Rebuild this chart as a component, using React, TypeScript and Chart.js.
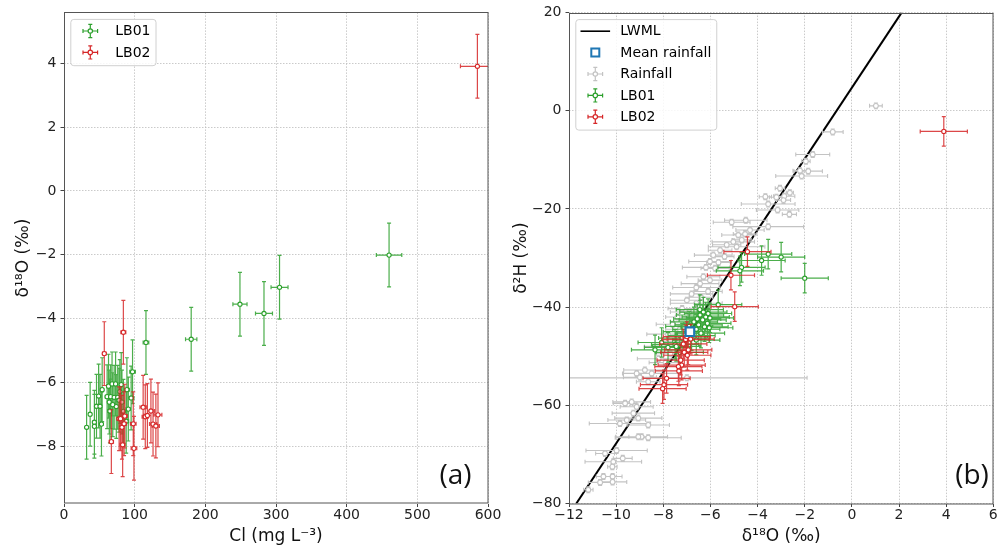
import React, { useEffect, useRef } from "react";
import { Chart, registerables } from "chart.js";
Chart.register(...registerables);

// ---------------- Panel (a): Cl vs δ18O ----------------
const A_X_TICKS = [0, 100, 200, 300, 400, 500, 600];
const A_Y_TICKS = [-8, -6, -4, -2, 0, 2, 4];

const A_LB01_CL = [460, 305, 283, 249, 180, 116, 97, 32, 37, 43, 43, 46, 49, 51, 53, 54, 61, 63, 64, 65, 66, 68, 69, 71, 73, 74, 76, 78, 79, 81, 82, 84, 88, 89, 91, 95];
const A_LB01_O18 = [-2.01, -3.02, -3.84, -3.55, -4.65, -4.75, -5.67, -7.41, -7.0, -7.25, -7.38, -6.75, -6.43, -6.75, -7.31, -6.23, -6.45, -6.12, -6.62, -6.9, -6.45, -6.05, -6.7, -6.47, -6.05, -6.76, -6.47, -6.56, -6.29, -6.07, -6.62, -6.91, -7.22, -6.23, -6.84, -6.49];
const A_LB01_CL_ERR = [18, 12, 12, 10, 8, 4, 4, 1.5, 1.5, 2, 2, 2, 2, 2, 2, 2, 2.5, 2.5, 2.5, 2.5, 2.5, 3, 3, 3, 3, 3, 3, 3, 3, 3, 3, 3.5, 3.5, 3.5, 3.5, 4];

const A_LB02_CL = [585, 57, 84, 67, 78, 80, 82, 83, 85, 86, 98, 99, 112, 115, 118, 123, 126, 130, 133];
const A_LB02_O18 = [3.91, -5.1, -4.43, -7.86, -7.14, -7.14, -7.41, -7.96, -7.3, -7.06, -7.3, -8.07, -6.78, -7.08, -7.04, -6.9, -7.31, -7.37, -7.02];
const A_LB02_CL_ERR = [24, 2.5, 3.5, 3, 3, 3, 3.5, 3.5, 3.5, 3.5, 4, 4, 4.5, 4.5, 5, 5, 5, 5, 5.5];

const A_O18_ERR = 1;

// ---------------- Panel (b): δ18O vs δ2H ----------------
const B_X_TICKS = [-12, -10, -8, -6, -4, -2, 0, 2, 4, 6];
const B_Y_TICKS = [-80, -60, -40, -20, 0, 20];

const LWML_O18 = [-11.69, 2.11];
const LWML_H2 = [-80, 20];

const MEAN_RAIN_O18 = [-6.87];
const MEAN_RAIN_H2 = [-45.0];

const RAIN_O18 = [1.02, -0.81, -1.66, -1.95, -2.2, -1.85, -2.13, -3.05, -2.63, -2.87, -3.67, -3.2, -2.9, -3.55, -3.15, -2.65, -5.1, -4.5, -3.55, -4.32, -4.53, -4.82, -4.67, -5.03, -5.31, -4.89, -5.59, -5.88, -5.4, -6.02, -5.66, -6.19, -5.8, -6.3, -6.02, -6.44, -6.6, -6.1, -6.8, -6.4, -7.0, -6.6, -7.2, -6.9, -7.4, -7.6, -7.3, -7.8, -7.5, -8.0, -7.7, -8.2, -7.9, -8.78, -9.13, -8.49, -8.99, -8.64, -7.0, -9.34, -9.62, -9.13, -9.27, -9.06, -9.55, -9.84, -8.64, -8.92, -9.06, -8.64, -9.98, -10.47, -9.72, -10.12, -10.16, -10.54, -10.15, -10.68, -10.15, -11.18];
const RAIN_H2 = [1.0, -4.3, -8.9, -10.3, -12.2, -12.3, -13.3, -15.8, -16.7, -17.4, -17.5, -17.6, -18.2, -19.0, -20.2, -21.1, -22.7, -22.3, -23.6, -24.3, -25.1, -25.3, -26.3, -26.7, -27.3, -27.7, -28.4, -29.4, -29.7, -30.7, -30.9, -31.9, -32.1, -33.8, -34.5, -35.2, -36.0, -36.8, -37.3, -38.0, -38.6, -39.2, -40.3, -41.0, -42.0, -43.5, -44.5, -45.5, -47.0, -48.0, -49.5, -50.5, -51.3, -52.8, -53.5, -53.5, -54.3, -55.2, -54.4, -59.3, -59.6, -60.3, -61.6, -62.6, -63.0, -63.7, -64.0, -66.4, -66.4, -66.6, -69.2, -69.8, -70.8, -71.5, -72.5, -74.5, -74.5, -75.7, -75.6, -77.2];
const RAIN_O18_ERR = [0.27, 0.44, 0.72, 0.18, 0.3, 0.6, 1.1, 0.2, 0.15, 0.45, 0.26, 0.3, 0.3, 1.14, 0.9, 0.3, 0.78, 0.9, 1.5, 0.6, 0.5, 0.7, 0.4, 0.9, 0.6, 1.2, 0.5, 0.8, 0.4, 0.9, 0.5, 1.0, 0.6, 0.7, 0.5, 0.8, 1.0, 0.6, 0.9, 0.5, 0.7, 1.1, 0.6, 0.8, 0.5, 0.7, 0.6, 0.9, 0.5, 0.8, 0.6, 0.9, 0.7, 0.9, 0.6, 1.2, 0.7, 0.5, 5.1, 0.8, 0.5, 0.7, 0.9, 1.0, 0.8, 1.3, 0.9, 1.1, 0.4, 1.4, 1.3, 0.4, 0.4, 1.2, 0.2, 0.3, 0.4, 0.5, 0.6, 0.2];
const RAIN_H2_ERR = 0.6;

const B_LB01_O18 = [-2.0, -3.0, -3.55, -3.83, -4.68, -4.75, -5.67, -6.45, -6.3, -6.1, -6.44, -6.2, -6.02, -6.56, -6.33, -6.13, -6.7, -6.5, -6.25, -6.9, -6.6, -6.05, -7.0, -6.4, -6.8, -7.2, -6.6, -7.5, -7.8, -8.07, -8.35, -7.3, -7.45];
const B_LB01_H2 = [-34.1, -29.8, -29.2, -30.5, -31.9, -32.6, -39.5, -40.5, -41.0, -41.3, -41.6, -42.0, -42.2, -42.4, -42.6, -43.3, -43.0, -43.6, -44.0, -43.9, -44.5, -44.2, -45.0, -45.3, -45.8, -46.3, -46.7, -47.6, -48.2, -47.2, -48.7, -49.2, -48.0];

const B_LB02_O18 = [3.9, -4.43, -5.13, -4.97, -6.84, -7.05, -7.15, -6.94, -7.11, -6.98, -7.26, -7.22, -7.36, -7.34, -7.86, -7.97, -8.03, -7.0];
const B_LB02_H2 = [-4.2, -28.7, -33.5, -39.9, -46.5, -46.6, -47.5, -48.7, -49.2, -49.8, -50.8, -51.8, -52.1, -53.0, -54.5, -55.8, -56.6, -46.0];

const B_O18_ERR = 1;
const B_H2_ERR = 3;

// ---------------- styling ----------------
const GREEN = "#2ca02c";
const RED = "#d62728";
const BLUE = "#1f77b4";
const GREY = "#c3c3c3";
const FONT = '"DejaVu Sans", sans-serif';

type Pt = { x: number; y: number; xe?: number; ye?: number };

function pts(xs: number[], ys: number[], xe: number[] | number, ye: number[] | number): Pt[] {
  return xs.map((x, i) => ({
    x,
    y: ys[i],
    xe: Array.isArray(xe) ? xe[i] : xe,
    ye: Array.isArray(ye) ? ye[i] : ye,
  }));
}

const fmt = (v: number) => String(v).replace("-", "\u2212");

type LegendItem = { label: string; kind: "err" | "line" | "square"; color: string };

function drawErrIcon(ctx: CanvasRenderingContext2D, cx: number, cy: number, color: string) {
  ctx.save();
  ctx.strokeStyle = color;
  ctx.lineWidth = 1.2;
  ctx.beginPath();
  ctx.moveTo(cx - 7.3, cy); ctx.lineTo(cx + 7.3, cy);
  ctx.moveTo(cx - 7.3, cy - 2); ctx.lineTo(cx - 7.3, cy + 2);
  ctx.moveTo(cx + 7.3, cy - 2); ctx.lineTo(cx + 7.3, cy + 2);
  ctx.moveTo(cx, cy - 6.6); ctx.lineTo(cx, cy + 6.6);
  ctx.moveTo(cx - 2, cy - 6.6); ctx.lineTo(cx + 2, cy - 6.6);
  ctx.moveTo(cx - 2, cy + 6.6); ctx.lineTo(cx + 2, cy + 6.6);
  ctx.stroke();
  ctx.beginPath();
  ctx.arc(cx, cy, 2.2, 0, Math.PI * 2);
  ctx.fillStyle = "#fff";
  ctx.fill();
  ctx.stroke();
  ctx.restore();
}

function makePlugin(legend: LegendItem[], tag: string, tagDx: number) {
  return {
    id: "errbarsOverlay",
    afterDatasetsDraw(chart: any) {
      const { ctx, chartArea: ca } = chart;
      const xs = chart.scales.x;
      const ys = chart.scales.y;
      ctx.save();
      ctx.beginPath();
      ctx.rect(ca.left, ca.top, ca.right - ca.left, ca.bottom - ca.top);
      ctx.clip();
      for (const ds of chart.data.datasets) {
        const st = ds.errStyle;
        if (!st) continue;
        ctx.setLineDash([]);
        ctx.strokeStyle = st.barColor || st.color;
        ctx.lineWidth = st.lw;
        ctx.beginPath();
        for (const p of ds.data as Pt[]) {
          const px = xs.getPixelForValue(p.x);
          const py = ys.getPixelForValue(p.y);
          if (p.xe) {
            const a = xs.getPixelForValue(p.x - p.xe);
            const b = xs.getPixelForValue(p.x + p.xe);
            ctx.moveTo(a, py); ctx.lineTo(b, py);
            ctx.moveTo(a, py - st.cap); ctx.lineTo(a, py + st.cap);
            ctx.moveTo(b, py - st.cap); ctx.lineTo(b, py + st.cap);
          }
          if (p.ye) {
            const a = ys.getPixelForValue(p.y - p.ye);
            const b = ys.getPixelForValue(p.y + p.ye);
            ctx.moveTo(px, a); ctx.lineTo(px, b);
            ctx.moveTo(px - st.cap, a); ctx.lineTo(px + st.cap, a);
            ctx.moveTo(px - st.cap, b); ctx.lineTo(px + st.cap, b);
          }
        }
        ctx.stroke();
        ctx.strokeStyle = st.color;
        ctx.lineWidth = st.mlw;
        ctx.fillStyle = "#fff";
        for (const p of ds.data as Pt[]) {
          const px = xs.getPixelForValue(p.x);
          const py = ys.getPixelForValue(p.y);
          ctx.beginPath();
          if (st.marker === "square") {
            ctx.rect(px - st.size, py - st.size, st.size * 2, st.size * 2);
          } else {
            ctx.arc(px, py, st.size, 0, Math.PI * 2);
          }
          ctx.fill();
          ctx.stroke();
        }
      }
      ctx.restore();
    },
    afterDraw(chart: any) {
      const { ctx, chartArea: ca } = chart;
      ctx.save();
      // frame
      ctx.strokeStyle = "#555";
      ctx.lineWidth = 1;
      ctx.setLineDash([]);
      ctx.strokeRect(Math.round(ca.left) + 0.5, Math.round(ca.top) + 0.5, Math.round(ca.right - ca.left) - 0.5, Math.round(ca.bottom - ca.top) - 0.5);

      // legend
      ctx.font = `14px ${FONT}`;
      const boxLeft = ca.left + 6.8;
      const boxTop = ca.top + 7;
      const rowStep = 21.4;
      const iconX = ca.left + 26.3;
      const textX = ca.left + 51.3;
      let maxW = 0;
      for (const it of legend) maxW = Math.max(maxW, ctx.measureText(it.label).width);
      const boxH = 11.6 + (legend.length - 1) * rowStep + 13.3;
      const boxW = textX - boxLeft + maxW + 5.5;
      ctx.beginPath();
      if ((ctx as any).roundRect) (ctx as any).roundRect(boxLeft, boxTop, boxW, boxH, 3);
      else ctx.rect(boxLeft, boxTop, boxW, boxH);
      ctx.fillStyle = "rgba(255,255,255,0.85)";
      ctx.fill();
      ctx.strokeStyle = "#d0d0d0";
      ctx.lineWidth = 1;
      ctx.stroke();
      legend.forEach((it, i) => {
        const cy = boxTop + 11.6 + i * rowStep;
        if (it.kind === "err") drawErrIcon(ctx, iconX, cy, it.color);
        else if (it.kind === "line") {
          ctx.strokeStyle = it.color;
          ctx.lineWidth = 1.6;
          ctx.beginPath();
          ctx.moveTo(iconX - 14.8, cy);
          ctx.lineTo(iconX + 14.8, cy);
          ctx.stroke();
        } else {
          ctx.strokeStyle = it.color;
          ctx.lineWidth = 2;
          ctx.fillStyle = "#fff";
          ctx.beginPath();
          ctx.rect(iconX - 4, cy - 4, 8, 8);
          ctx.fill();
          ctx.stroke();
        }
        ctx.fillStyle = "#000";
        ctx.textAlign = "left";
        ctx.textBaseline = "middle";
        ctx.font = `14px ${FONT}`;
        ctx.fillText(it.label, textX, cy + 0.5);
      });

      // panel tag
      ctx.fillStyle = "#111";
      ctx.font = `28px "Open Sans", sans-serif`;
      ctx.textAlign = "center";
      ctx.textBaseline = "middle";
      ctx.fillText(tag, ca.right - tagDx, 476);
      ctx.restore();
    },
  };
}

function axis(min: number, max: number, tickVals: number[], title: string, horizontal: boolean, size: number, titlePad: number) {
  return {
    type: "linear" as const,
    min,
    max,
    afterBuildTicks: (s: any) => {
      s.ticks = tickVals.map((v) => ({ value: v }));
    },
    afterFit: (s: any) => {
      if (horizontal) s.height = size;
      else s.width = size;
    },
    ticks: {
      font: { family: FONT, size: 14 },
      color: "#222",
      padding: horizontal ? 0 : 4,
      callback: (v: any) => fmt(Number(v)),
    },
    grid: {
      color: "#bdbdbd",
      lineWidth: 0.8,
      drawTicks: true,
      tickLength: 3.5,
      tickColor: "#444",
      tickWidth: 1,
    },
    border: { display: false, dash: [1.5, 1.5] },
    title: {
      display: true,
      text: title,
      color: "#111",
      font: { family: FONT, size: 17 },
      padding: horizontal ? { top: 0, bottom: titlePad } : { top: titlePad, bottom: 0 },
    },
  };
}

function errStyle(color: string, barColor?: string) {
  return { color, barColor, lw: 1.2, cap: 2, size: 2.1, mlw: 1.1, marker: "circle" };
}

export default function App() {
  const refA = useRef<HTMLCanvasElement>(null);
  const refB = useRef<HTMLCanvasElement>(null);

  useEffect(() => {
    const chartA = new Chart(refA.current as HTMLCanvasElement, {
      type: "scatter",
      data: {
        datasets: [
          {
            label: "LB01",
            data: pts(A_LB01_CL, A_LB01_O18, A_LB01_CL_ERR, A_O18_ERR),
            pointRadius: 0,
            errStyle: errStyle(GREEN, "rgba(44,160,44,0.85)"),
          } as any,
          {
            label: "LB02",
            data: pts(A_LB02_CL, A_LB02_O18, A_LB02_CL_ERR, A_O18_ERR),
            pointRadius: 0,
            errStyle: errStyle(RED, "rgba(214,39,40,0.85)"),
          } as any,
        ],
      },
      options: {
        animation: false,
        responsive: false,
        devicePixelRatio: 1,
        events: [],
        layout: { padding: { left: 0, right: 518, top: 12.2, bottom: 0 } },
        plugins: { legend: { display: false }, tooltip: { enabled: false } },
        scales: {
          x: axis(0, 600, A_X_TICKS, "Cl (mg L\u207B\u00B3)", true, 45.5, 2.1),
          y: axis(-9.8, 5.6, A_Y_TICKS, "\u03B4\u00B9\u2078O (\u2030)", false, 64, 13.5),
        },
      },
      plugins: [
        makePlugin(
          [
            { label: "LB01", kind: "err", color: GREEN },
            { label: "LB02", kind: "err", color: RED },
          ],
          "(a)",
          32.5
        ),
      ],
    } as any);

    const chartB = new Chart(refB.current as HTMLCanvasElement, {
      type: "scatter",
      data: {
        datasets: [
          {
            label: "LWML",
            data: LWML_O18.map((x, i) => ({ x, y: LWML_H2[i] })),
            showLine: true,
            borderColor: "#000",
            borderWidth: 2,
            pointRadius: 0,
          },
          {
            label: "Rainfall",
            data: pts(RAIN_O18, RAIN_H2, RAIN_O18_ERR, RAIN_H2_ERR),
            pointRadius: 0,
            errStyle: { color: GREY, lw: 1.1, cap: 2, size: 2.4, mlw: 1.1, marker: "circle" },
          } as any,
          {
            label: "LB01",
            data: pts(B_LB01_O18, B_LB01_H2, B_O18_ERR, B_H2_ERR),
            pointRadius: 0,
            errStyle: errStyle(GREEN, "rgba(44,160,44,0.85)"),
          } as any,
          {
            label: "LB02",
            data: pts(B_LB02_O18, B_LB02_H2, B_O18_ERR, B_H2_ERR),
            pointRadius: 0,
            errStyle: errStyle(RED, "rgba(214,39,40,0.85)"),
          } as any,
          {
            label: "Mean rainfall",
            data: pts(MEAN_RAIN_O18, MEAN_RAIN_H2, 0, 0),
            pointRadius: 0,
            errStyle: { color: BLUE, lw: 1, cap: 0, size: 4.3, mlw: 2.2, marker: "square" },
          } as any,
        ],
      },
      options: {
        animation: false,
        responsive: false,
        devicePixelRatio: 1,
        events: [],
        layout: { padding: { left: 500, right: 12.7, top: 12.6, bottom: 0 } },
        plugins: { legend: { display: false }, tooltip: { enabled: false } },
        scales: {
          x: axis(-12, 6, B_X_TICKS, "\u03B4\u00B9\u2078O (\u2030)", true, 45.5, 2.1),
          y: axis(-80, 20, B_Y_TICKS, "\u03B4\u00B2H (\u2030)", false, 69, 11.8),
        },
      },
      plugins: [
        makePlugin(
          [
            { label: "LWML", kind: "line", color: "#000" },
            { label: "Mean rainfall", kind: "square", color: BLUE },
            { label: "Rainfall", kind: "err", color: GREY },
            { label: "LB01", kind: "err", color: GREEN },
            { label: "LB02", kind: "err", color: RED },
          ],
          "(b)",
          21.3
        ),
      ],
    } as any);

    return () => {
      chartA.destroy();
      chartB.destroy();
    };
  }, []);

  const cv: React.CSSProperties = { position: "absolute", left: 0, top: 0, width: 1006, height: 549, display: "block" };
  return (
    <div style={{ position: "absolute", left: 0, top: 0, width: 1006, height: 549, background: "#fff" }}>
      <canvas ref={refA} width={1006} height={549} style={cv} />
      <canvas ref={refB} width={1006} height={549} style={cv} />
    </div>
  );
}
